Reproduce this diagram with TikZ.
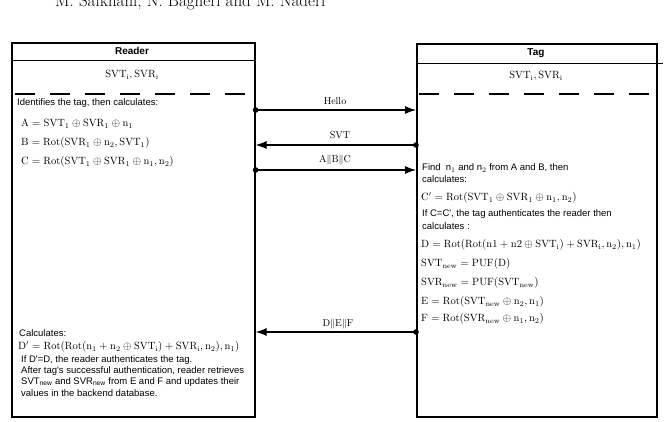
\documentclass[tikz,border=0pt]{standalone}
\usepackage{fontspec}
\newfontfamily\arialfont{Liberation Sans}
\usetikzlibrary{arrows.meta}
\newcommand{\sanstext}{\arialfont\fontsize{9.5}{11}\selectfont}
\newcommand{\eqtext}{\fontsize{10.5}{12}\selectfont}
\begin{document}
\begin{tikzpicture}[x=1pt,y=-1pt,
  box/.style={draw, line width=1.6pt, inner sep=0pt, anchor=north west},
  sepline/.style={line width=1.4pt, dash pattern=on 20pt off 15pt},
  msg/.style={line width=1.1pt, {Circle[length=5.5pt]}-{Latex[length=11pt,width=8pt]}, shorten <=-2.75pt},
  lbl/.style={font=\fontsize{10}{12}\selectfont},
  txt/.style={anchor=west, inner sep=0pt, font=\sanstext},
  eq/.style={anchor=west, inner sep=0pt, font=\eqtext}]
\useasboundingbox (0,0) rectangle (666,422);
\node[anchor=base west, inner sep=0pt, font=\fontsize{17}{20}\selectfont] (author) at (55,7) {M. Saikhani, N. Bagheri and M. Naderi};
% the two parties
\node[box, minimum width=243pt, minimum height=374pt] (reader) at (11,42) {};
\node[box, minimum width=240pt, minimum height=373pt] (tag) at (416,43) {};
\node[font=\arialfont\bfseries\fontsize{10}{12}\selectfont] (readername) at (132,51) {Reader};
\node[font=\arialfont\bfseries\fontsize{10}{12}\selectfont] (tagname) at (536,53) {Tag};
\draw[line width=1pt] (11,61) -- (254,61);
\draw[line width=0.9pt] (416,63) -- (663,63);
\node[font=\eqtext] (readerkeys) at (132,75) {$\mathrm{SVT_i, SVR_i}$};
\node[font=\eqtext] (tagkeys) at (536,76) {$\mathrm{SVT_i, SVR_i}$};
\draw[sepline] (15,94) -- (248,94);
\draw[sepline] (419,94) -- (663,94);
% reader side
\node[txt] (identify) at (17,103) {Identifies the tag, then calculates:};
\node[eq] (eqa) at (21,124) {$\mathrm{A = SVT_1 \oplus SVR_1 \oplus n_1}$};
\node[eq] (eqb) at (21,143) {$\mathrm{B = Rot(SVR_1 \oplus n_2, SVT_1)}$};
\node[eq] (eqc) at (21,162) {$\mathrm{C = Rot(SVT_1 \oplus SVR_1 \oplus n_1, n_2)}$};
\node[txt] (calc) at (19,333) {Calculates:};
\node[eq] (eqdd) at (18,347) {$\mathrm{D' = Rot(Rot(n_1 + n_2 \oplus SVT_i) + SVR_i, n_2), n_1)}$};
\node[txt] (check) at (21,360) {If D'=D, the reader authenticates the tag.};
\node[txt] (after1) at (21,371) {After tag's successful authentication, reader retrieves};
\node[txt] (after2) at (21,382) {SVT\textsubscript{new} and SVR\textsubscript{new} from E and F and updates their};
\node[txt] (after3) at (21,393) {values in the backend database.};
% tag side
\node[txt] (find1) at (422,168) {Find~ n$_1$ and n$_2$ from A and B, then};
\node[txt] (find2) at (422,179) {calculates:};
\node[eq] (eqcc) at (421,198) {$\mathrm{C' = Rot(SVT_1 \oplus SVR_1 \oplus n_1, n_2)}$};
\node[txt] (ifc1) at (422,214) {If C=C', the tag authenticates the reader then};
\node[txt] (ifc2) at (422,226) {calculates :};
\node[eq] (eqd) at (421,245) {$\mathrm{D = Rot(Rot(n1 + n2 \oplus SVT_i) + SVR_i, n_2), n_1)}$};
\node[eq] (eqsvt) at (421,264) {$\mathrm{SVT_{new} = PUF(D)}$};
\node[eq] (eqsvr) at (421,283) {$\mathrm{SVR_{new} = PUF(SVT_{new})}$};
\node[eq] (eqe) at (421,302) {$\mathrm{E = Rot(SVT_{new} \oplus n_2, n_1)}$};
\node[eq] (eqf) at (421,319) {$\mathrm{F = Rot(SVR_{new} \oplus n_1, n_2)}$};
% messages
\coordinate (hello) at (335,110);
\coordinate (svt) at (335,145);
\coordinate (abc) at (335,170);
\coordinate (def) at (335,332);
\node[lbl] (hellolbl) at (335,101) {Hello};
\node[lbl] (svtlbl) at (340,135) {SVT};
\node[lbl] (abclbl) at (335,160) {$\mathrm{A\|B\|C}$};
\node[lbl] (deflbl) at (338,324) {$\mathrm{D\|E\|F}$};
\draw[msg] (reader.east |- hello) -- (tag.west |- hello);
\draw[msg] (tag.west |- svt) -- (reader.east |- svt);
\draw[msg] (reader.east |- abc) -- (tag.west |- abc);
\draw[msg] (tag.west |- def) -- (reader.east |- def);
\end{tikzpicture}
\end{document}
